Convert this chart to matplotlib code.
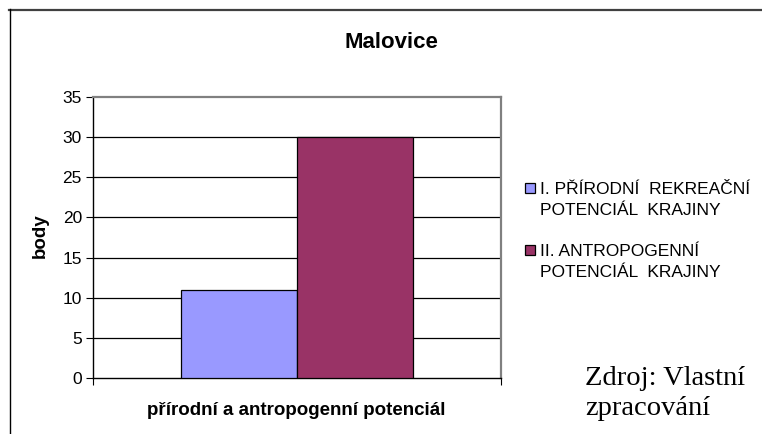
import matplotlib
matplotlib.use("Agg")
import matplotlib.pyplot as plt
from matplotlib.lines import Line2D
from matplotlib.patches import Rectangle

# Data
title = "Malovice"
category = ["přírodní a antropogenní potenciál"]
series_names = ["I. PŘÍRODNÍ  REKREAČNÍ\nPOTENCIÁL  KRAJINY",
                "II. ANTROPOGENNÍ\nPOTENCIÁL  KRAJINY"]
series_values = [11, 30]
series_colors = ["#9999FF", "#993366"]
y_ticks = [0, 5, 10, 15, 20, 25, 30, 35]
y_label = "body"
source_lines = ["Zdroj: Vlastní", "zpracování"]

W, H = 762, 434
fig = plt.figure(figsize=(W / 100, H / 100), dpi=100)
fig.patch.set_facecolor("white")

def fx(px):
    return px / W

def fy(py):
    return 1 - py / H

# outer chart frame (clipped on right/bottom)
fig.add_artist(Line2D([fx(9), 1.01], [fy(9.5), fy(9.5)], color="#404040", lw=1.6,
                      transform=fig.transFigure))
fig.add_artist(Line2D([fx(10), fx(10)], [fy(9), -0.01], color="black", lw=1.0,
                      transform=fig.transFigure))

left, right, top, bottom = 93, 501, 97, 378
ax = fig.add_axes([fx(left), fy(bottom), fx(right - left), (bottom - top) / H])

bw = 0.285
offsets = [-bw / 2, bw / 2]
bars = []
for name, val, col, off in zip(series_names, series_values, series_colors, offsets):
    b = ax.bar([0 + off], [val], width=bw, color=col, edgecolor="black",
               linewidth=0.9, label=name, zorder=3)
    bars.append(b)

ax.set_xlim(-0.5, 0.5)
ax.set_ylim(0, 35)
ax.set_yticks(y_ticks)
ax.set_xticks([-0.5, 0.5])
ax.set_xticklabels(["", ""])
ax.tick_params(axis="x", direction="out", length=5, width=0.8, color="black")
ax.tick_params(axis="y", direction="out", length=5, width=0.8, color="black",
               labelsize=12.5, pad=3)
for lbl in ax.get_yticklabels():
    lbl.set_fontfamily("Liberation Sans")

for yv in y_ticks[1:-1]:
    ax.axhline(yv, color="black", lw=0.9, zorder=1)

ax.spines["left"].set_color("black")
ax.spines["bottom"].set_color("black")
ax.spines["left"].set_linewidth(1.0)
ax.spines["bottom"].set_linewidth(1.0)
ax.spines["top"].set_color("#808080")
ax.spines["right"].set_color("#808080")
ax.spines["top"].set_linewidth(1.6)
ax.spines["right"].set_linewidth(1.6)

fig.text(fx(391), fy(48), title, ha="center", va="baseline", fontsize=16,
         fontweight="bold", family="Liberation Sans")
fig.text(fx(296), fy(415), category[0], ha="center", va="baseline", fontsize=13.5,
         fontweight="bold", family="Liberation Sans")
fig.text(fx(40), fy(236), y_label, ha="center", va="center", fontsize=13.5,
         fontweight="bold", family="Liberation Sans", rotation=90)

# legend (drawn manually so each marker sits on the first label line)
base0, entry_step, line_step = 194, 62, 21
for i, (name, col) in enumerate(zip(series_names, series_colors)):
    b0 = base0 + entry_step * i
    fig.add_artist(Rectangle((fx(525), fy(b0 - 1)), fx(10), 10 / H,
                             facecolor=col, edgecolor="black", lw=0.9,
                             transform=fig.transFigure))
    for j, line in enumerate(name.split("\n")):
        fig.text(fx(540), fy(b0 + line_step * j), line, ha="left", va="baseline",
                 fontsize=12.5, family="Liberation Sans")

for j, line in enumerate(source_lines):
    fig.text(fx(585), fy(385 + 30 * j), line, ha="left", va="baseline",
             fontsize=20.5, family="Liberation Serif")

fig.savefig("out.png", dpi=100, facecolor="white")
